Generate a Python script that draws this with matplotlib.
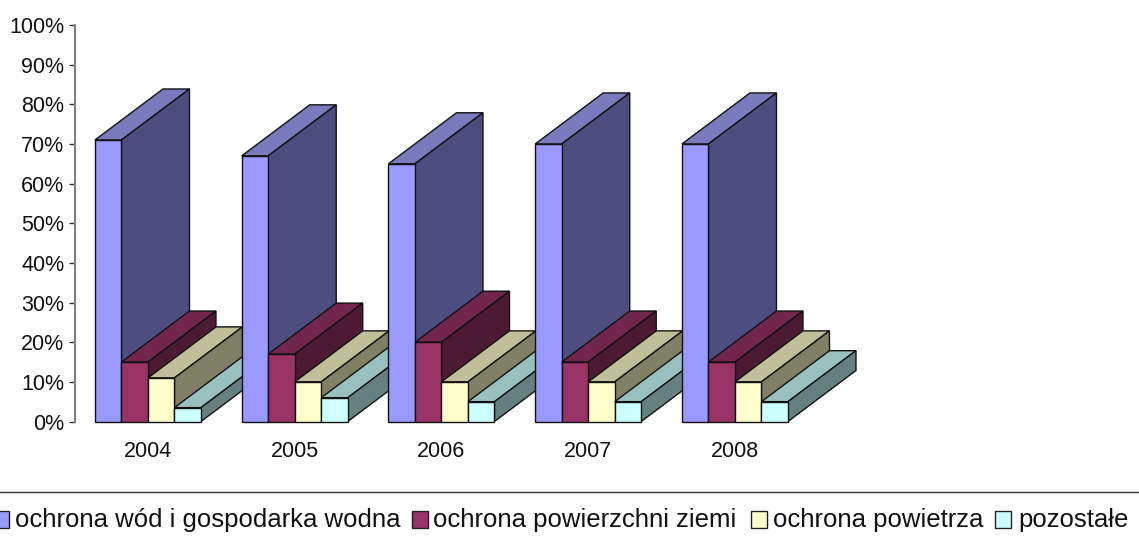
import matplotlib
matplotlib.use("Agg")
import matplotlib.pyplot as plt
from matplotlib.patches import Polygon, Rectangle

plt.rcParams["font.family"] = ["Liberation Sans", "DejaVu Sans"]

# Values (percent)
years = ["2004", "2005", "2006", "2007", "2008"]
woda = [71, 67, 65, 70, 70]
ziemia = [15, 17, 20, 15, 15]
powietrze = [11, 10, 10, 10, 10]
pozostale = [3.5, 6, 5, 5, 5]

series = [woda, ziemia, powietrze, pozostale]
names = ["ochrona wód i gospodarka wodna", "ochrona powierzchni ziemi",
         "ochrona powietrza", "pozostałe"]
colors = ["#9999FF", "#993366", "#FFFFCC", "#CCFFFF"]
tops = ["#7A7ABF", "#73264D", "#BFBF99", "#99BFBF"]
sides = ["#4D4D80", "#4D1A33", "#808066", "#668080"]

W, H = 1139, 545
step = 146.75
fig = plt.figure(figsize=(W / 100, H / 100), dpi=100)
ax = fig.add_axes([74.6 / W, (H - 421.5) / H, 5 * step / W, 396.5 / H])

bar_w = 26.5 / step
dx = 68 / step   # depth of the 3D bars, in category units
dy = 51 / 3.965  # and in percent
edge = dict(edgecolor="#111111", linewidth=1.0, joinstyle="miter", clip_on=False)

# draw left to right so that later bars cover the earlier ones
for i in range(len(years)):
    for j, vals in enumerate(series):
        x0 = i + (j - 2) * bar_w
        x1 = x0 + bar_w
        v = vals[i]
        ax.add_patch(Polygon([(x0, v), (x1, v), (x1 + dx, v + dy), (x0 + dx, v + dy)],
                             facecolor=tops[j], **edge))
        ax.add_patch(Polygon([(x1, 0), (x1 + dx, dy), (x1 + dx, v + dy), (x1, v)],
                             facecolor=sides[j], **edge))
        ax.bar(x0, v, bar_w, align="edge", color=colors[j], **edge)

ax.set_xlim(-0.5, 4.5)
ax.set_ylim(0, 100)
ax.set_yticks(range(0, 101, 10))
ax.set_yticklabels([f"{t}%" for t in range(0, 101, 10)], fontsize=15.5, color="#111111")
ax.set_xticks(range(len(years)))
ax.set_xticklabels(years, fontsize=15.5, color="#111111")
ax.tick_params(axis="x", length=0, pad=14)
ax.tick_params(axis="y", length=4.5, width=1, color="#333333", pad=3)
for s in ["top", "right", "bottom"]:
    ax.spines[s].set_visible(False)
ax.spines["left"].set_color("#808080")
ax.spines["left"].set_linewidth(1.5)
ax.patch.set_visible(False)

# Legend strip below the chart
fig.add_artist(plt.Line2D([0, 1], [(H - 492) / H] * 2, color="#333333", linewidth=1))
swatch_x = [-7, 412, 751, 995]
text_x = [15, 433, 773, 1018]
for j, name in enumerate(names):
    fig.add_artist(Rectangle((swatch_x[j] / W, (H - 527.5) / H), 15.5 / W, 17 / H,
                             facecolor=colors[j], edgecolor="#222222", linewidth=1,
                             transform=fig.transFigure))
    fig.text(text_x[j] / W, (H - 527.5) / H, name, fontsize=18.5, color="#111111",
             ha="left", va="baseline")

fig.savefig("out.png", dpi=100)
